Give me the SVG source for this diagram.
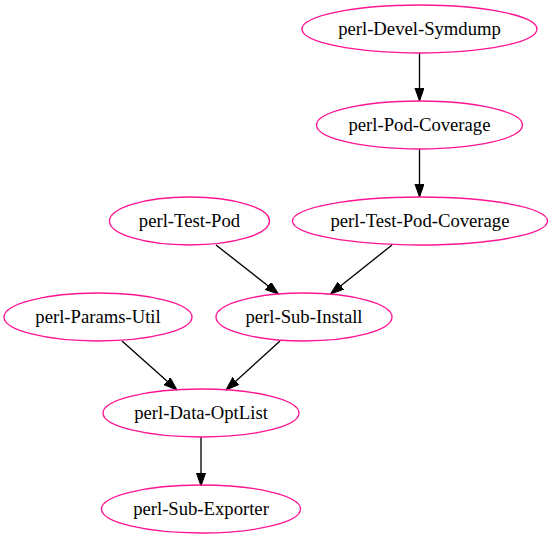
<svg xmlns="http://www.w3.org/2000/svg" width="552" height="539" viewBox="0 0 552 539">
<defs>
<style>
.node ellipse{fill:none;stroke:#ff1493;stroke-width:1.33}
.node text{font-family:"Liberation Serif","Times New Roman",serif;font-size:18.67px;fill:#000;text-anchor:middle}
.edge line{stroke:#000;stroke-width:1.33;marker-end:url(#arr)}
</style>
<marker id="arr" markerUnits="userSpaceOnUse" markerWidth="14" markerHeight="10" refX="13.3" refY="4.67" orient="auto">
<path d="M0,0 L13.3,4.67 L0,9.33 z" fill="#000" stroke="#000" stroke-width="1"/>
</marker>
</defs>
<rect width="552" height="539" fill="#fff"/>
<g id="edges" class="edge">
<line x1="419.5" y1="53" x2="419.5" y2="101"/>
<line x1="419.5" y1="149" x2="419.5" y2="197"/>
<line x1="216" y1="245" x2="278.5" y2="294"/>
<line x1="392" y1="245" x2="330.5" y2="294"/>
<line x1="122" y1="341" x2="177" y2="390"/>
<line x1="280" y1="341" x2="226" y2="390"/>
<line x1="201" y1="437" x2="201" y2="486"/>
</g>
<g id="perl-Devel-Symdump" class="node"><ellipse cx="419.5" cy="29" rx="117.5" ry="24"/><text x="419.5" y="35">perl-Devel-Symdump</text></g>
<g id="perl-Pod-Coverage" class="node"><ellipse cx="419.5" cy="125" rx="103" ry="24"/><text x="419.5" y="131">perl-Pod-Coverage</text></g>
<g id="perl-Test-Pod" class="node"><ellipse cx="189.5" cy="221" rx="80" ry="24"/><text x="189.5" y="227">perl-Test-Pod</text></g>
<g id="perl-Test-Pod-Coverage" class="node"><ellipse cx="420" cy="221" rx="127.5" ry="24"/><text x="420" y="227">perl-Test-Pod-Coverage</text></g>
<g id="perl-Params-Util" class="node"><ellipse cx="98" cy="317" rx="94" ry="24"/><text x="98" y="323">perl-Params-Util</text></g>
<g id="perl-Sub-Install" class="node"><ellipse cx="304" cy="317" rx="88" ry="24"/><text x="304" y="323">perl-Sub-Install</text></g>
<g id="perl-Data-OptList" class="node"><ellipse cx="201" cy="413" rx="98" ry="24"/><text x="201" y="419">perl-Data-OptList</text></g>
<g id="perl-Sub-Exporter" class="node"><ellipse cx="201" cy="509" rx="99.5" ry="24"/><text x="201" y="515">perl-Sub-Exporter</text></g>
</svg>
